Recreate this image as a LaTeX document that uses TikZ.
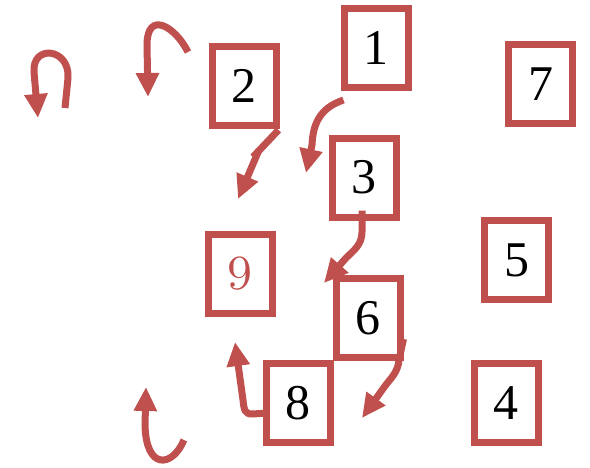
\documentclass[tikz,border=0pt]{standalone}
\usepackage{fontspec}
\setmainfont{Liberation Serif}
\usetikzlibrary{arrows.meta,calc}
\definecolor{boxred}{HTML}{C0504D}
\newcommand{\oldnine}{\scalebox{5}{\fontsize{10}{10}\usefont{OML}{cmm}{m}{it}9}}
\tikzset{
  numbox/.style={draw=boxred, line width=7pt, fill=white, minimum width=64pt,
    minimum height=79pt, inner sep=0pt, font=\fontsize{50}{50}\selectfont},
  redarrow/.style={draw=boxred, line width=7pt,
    -{Triangle[width=22pt,length=24pt]}},
  redline/.style={draw=boxred, line width=7pt}
}
\begin{document}
\begin{tikzpicture}[x=1pt,y=-1pt]
\useasboundingbox (0,0) rectangle (590,467);
% boxes
\node[numbox] (b1) at (376,48) {1};
\node[numbox] (b2) at (244,86) {2};
\node[numbox] (b7) at (540.5,84) {7};
\node[numbox] (b3) at (364,177.5) {3};
\node[numbox] (b5) at (516.5,260) {5};
\node[numbox, text=boxred] (b9) at (240,274) {\oldnine};
\node[numbox] (b6) at (368,318) {6};
\node[numbox] (b8) at (298,403) {8};
\node[numbox] (b4) at (506,403) {4};
% free ends
\coordinate (la) at (65,108);
\coordinate (ta) at (38,118);
\coordinate (lb) at (188,52);
\coordinate (tb) at (148,97);
\coordinate (tc) at (238,199);
\coordinate (td) at (306,173);
\coordinate (te) at (324,283);
\coordinate (tf) at (362,418);
\coordinate (tg) at (235,342);
\coordinate (lh) at (184,440);
\coordinate (th) at (146,387);
% arrows
\draw[redarrow] (la) -- (68,78) .. controls (70,48) and (32,44) .. (34,72) -- (ta);
\draw[redarrow] (lb) .. controls (175,26) and (147,10) .. (147,45) -- (tb);
\draw[redline] ($(b2.south east)+(-1,1)$) -- (253,157);
\draw[redarrow] (259,150) -- (tc);
\draw[redarrow] ($(b1.south west)+(3,9)$) .. controls (323,107) and (313,120) .. (312,145) -- (td);
\draw[redarrow] ($(b3.south)+(-2,-10)$) -- (362,232) .. controls (362,245) and (353,251) .. (346,258) -- (te);
\draw[redarrow] ($(b6.south east)+(0,-22)$) -- (399,360) .. controls (398,372) and (391,378) .. (385,386) -- (tf);
\draw[redarrow] ($(b8.west)+(7,10)$) -- (252,414) .. controls (245,414) and (244,410) .. (243,400) -- (tg);
\draw[redarrow] (lh) .. controls (172,468) and (146,470) .. (145,425) -- (th);
\end{tikzpicture}
\end{document}
